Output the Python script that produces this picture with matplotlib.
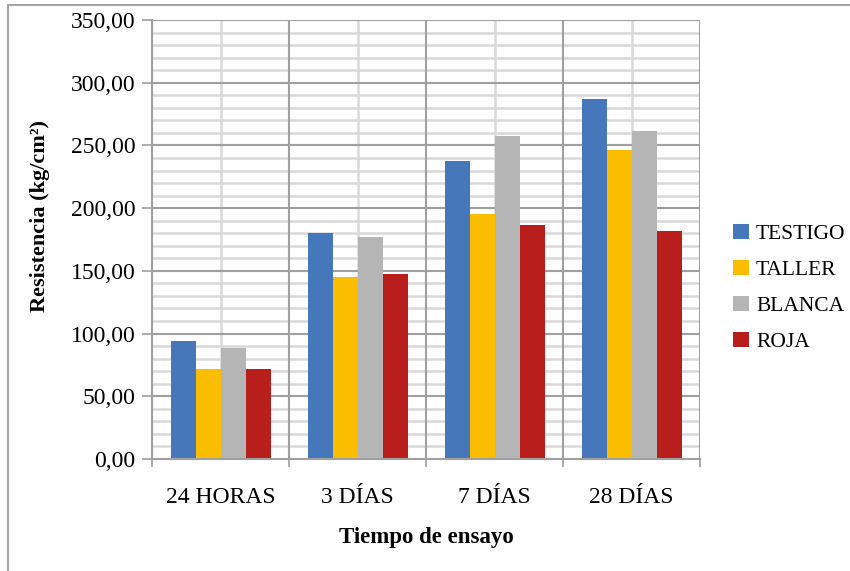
import matplotlib
matplotlib.use("Agg")
import matplotlib.pyplot as plt
import numpy as np
from matplotlib.patches import Rectangle
from matplotlib.ticker import FuncFormatter, MultipleLocator

categories = ["24 HORAS", "3 DÍAS", "7 DÍAS", "28 DÍAS"]
series_names = ["TESTIGO", "TALLER", "BLANCA", "ROJA"]
testigo = [94.1, 180.4, 237.6, 287.0]
taller = [71.8, 145.1, 195.3, 246.4]
blanca = [88.5, 177.3, 257.5, 261.5]
roja = [71.8, 147.8, 186.6, 181.8]
colors = ["#4677BA", "#FABD00", "#B4B5B4", "#B81E1C"]

plt.rcParams['font.family'] = ['Liberation Serif', 'DejaVu Serif']

fig = plt.figure(figsize=(8.5, 5.71), dpi=100)
ax = fig.add_axes([152/850, 1-459/571, 548/850, 439/571])

# figure border
fig.patches.append(Rectangle((8/850, -0.05), 1.2, 1.05 - 5/571, transform=fig.transFigure,
                             fill=False, edgecolor="#a6a6a6", linewidth=1.5, zorder=-1))

data = [testigo, taller, blanca, roja]
n = len(categories)
x = np.arange(n)
bw = 25/137
for i, (vals, c, name) in enumerate(zip(data, colors, series_names)):
    ax.bar(x + (i - 1.5) * bw, vals, width=bw, color=c, label=name, zorder=3)

ax.set_xlim(-0.5, n - 0.5)
ax.set_ylim(0, 350)
ax.yaxis.set_major_locator(MultipleLocator(50))
ax.yaxis.set_minor_locator(MultipleLocator(10))
ax.yaxis.set_major_formatter(FuncFormatter(lambda v, p: f"{v:.2f}".replace(".", ",")))

# grid lines
for yv in np.arange(10, 351, 10):
    major = (yv % 50 == 0)
    ax.axhline(yv, color="#a0a0a0" if major else "#d9d9d9", lw=1.5 if major else 1.8, zorder=1 if major else 0.5)
for xv in np.arange(-0.5, n, 1.0):
    ax.axvline(xv, color="#a0a0a0", lw=1.5, zorder=1)
for xv in x:
    ax.axvline(xv, color="#d9d9d9", lw=1.8, zorder=0.5)

ax.set_xticks(x)
ax.set_xticklabels(categories)
ax.set_xticks(np.arange(-0.5, n, 1.0), minor=True)
ax.tick_params(axis='x', which='major', length=0, pad=20, labelsize=17)
ax.tick_params(axis='x', which='minor', length=6, color="#a0a0a0", width=1.2)
ax.tick_params(axis='y', which='major', length=7, color="#a0a0a0", width=1.2, labelsize=17, pad=5)
ax.tick_params(axis='y', which='minor', length=0)

for s in ['top', 'right']:
    ax.spines[s].set_visible(False)
for s in ['left', 'bottom']:
    ax.spines[s].set_color("#a0a0a0")
    ax.spines[s].set_linewidth(1.5)
    ax.spines[s].set_zorder(4)

ax.set_ylabel("Resistencia (kg/cm²)", fontsize=16, fontweight='bold')
ax.yaxis.set_label_coords((50 - 152) / 548, 1 - (216 - 20) / 439)
ax.set_xlabel("Tiempo de ensayo", fontsize=16.5, fontweight='bold', labelpad=14)

leg = fig.legend(loc='center left', bbox_to_anchor=(718/850, 1-288/571), frameon=False,
                 fontsize=15.5, handlelength=0.72, handleheight=0.72, handletextpad=0.35,
                 labelspacing=0.74, borderpad=0.2)

fig.savefig("out.png", dpi=100)
